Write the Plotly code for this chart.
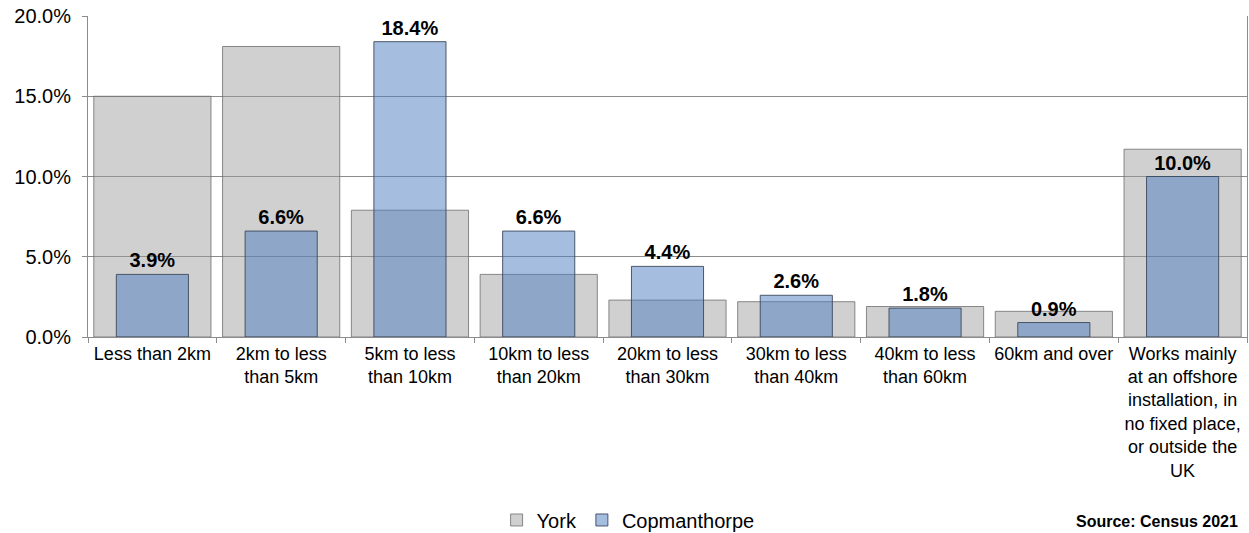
import plotly.graph_objects as go

categories = [
    "Less than 2km",
    "2km to less<br>than 5km",
    "5km to less<br>than 10km",
    "10km to less<br>than 20km",
    "20km to less<br>than 30km",
    "30km to less<br>than 40km",
    "40km to less<br>than 60km",
    "60km and over",
    "Works mainly<br>at an offshore<br>installation, in<br>no fixed place,<br>or outside the<br>UK",
]
york = [15.0, 18.1, 7.9, 3.9, 2.3, 2.2, 1.9, 1.6, 11.7]
copmanthorpe = [3.9, 6.6, 18.4, 6.6, 4.4, 2.6, 1.8, 0.9, 10.0]
y_ticks = [0, 5, 10, 15, 20]

FONT = "Liberation Sans, Arial, sans-serif"

fig = go.Figure()
fig.add_trace(go.Bar(
    x=categories, y=york, name="York", width=0.91,
    marker=dict(color="rgba(150,150,150,0.45)", line=dict(color="rgba(110,110,110,0.8)", width=1)),
    hoverinfo="skip",
))
fig.add_trace(go.Bar(
    x=categories, y=copmanthorpe, name="Copmanthorpe", width=0.56,
    marker=dict(color="rgba(76,124,190,0.5)", line=dict(color="rgba(60,72,92,0.9)", width=1)),
    text=[f"<b>{v:.1f}%</b>" for v in copmanthorpe],
    textposition="outside", textfont=dict(size=20, color="black", family=FONT),
    cliponaxis=False,
))

fig.update_layout(
    barmode="overlay",
    width=1249, height=533,
    margin=dict(l=88, r=2, t=16, b=196, autoexpand=False),
    paper_bgcolor="white", plot_bgcolor="white",
    font=dict(family=FONT, size=18, color="black"),
    legend=dict(orientation="h", x=0.466, xanchor="center", y=-0.57, yanchor="middle",
                font=dict(size=20), itemwidth=30, tracegroupgap=0),
    annotations=[dict(text="<b>Source: Census 2021</b>", xref="paper", yref="paper",
                      x=0.994, xanchor="right", y=-0.606, yanchor="bottom",
                      showarrow=False, font=dict(size=16, color="black"))],
)
fig.update_yaxes(
    range=[0, 20], tickvals=y_ticks, ticktext=[f"{v:.1f}%" for v in y_ticks],
    showgrid=True, gridcolor="#8c8c8c", gridwidth=1,
    showline=True, linecolor="#8c8c8c", linewidth=1, mirror=True,
    ticks="outside", ticklen=5, tickcolor="#8c8c8c", ticklabelstandoff=7,
    ticklabeloverflow="allow",
    tickfont=dict(size=20), zeroline=False, fixedrange=True, automargin=False,
)
fig.update_xaxes(
    showline=True, linecolor="#8c8c8c", linewidth=1,
    ticks="outside", ticklen=5, tickcolor="#8c8c8c", tickson="boundaries",
    tickfont=dict(size=18), tickangle=0, fixedrange=True, automargin=False,
)

# Remove the default 8px page margin so the figure fills the window exactly.
fig.write_html("out.html", config={"displayModeBar": False},
               post_script="document.body.style.margin='0px';")
